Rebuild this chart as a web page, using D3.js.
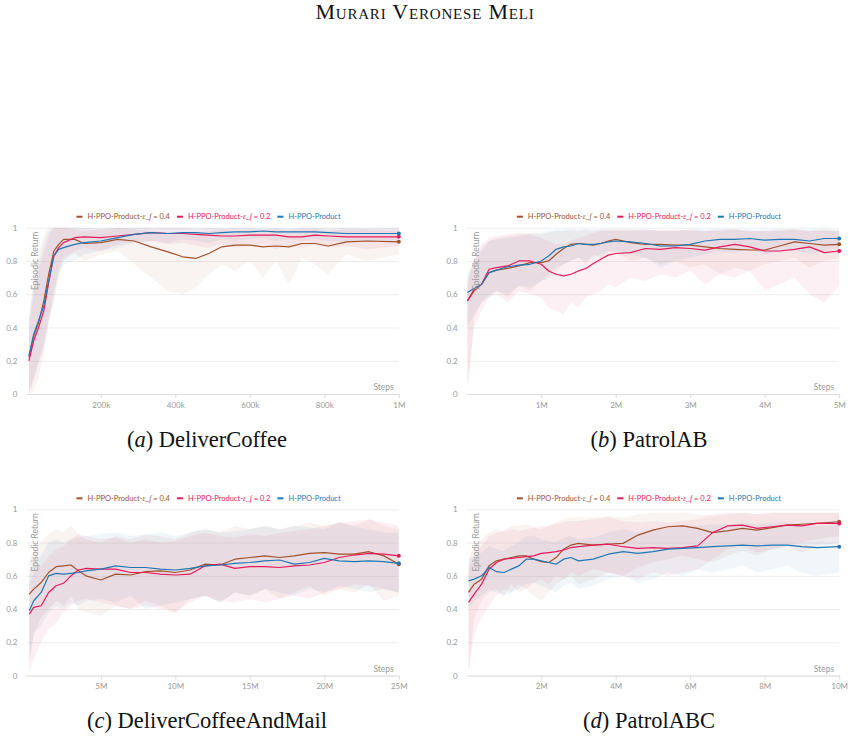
<!DOCTYPE html>
<html lang="en">
<head>
<meta charset="UTF-8">
<title>Episodic Return</title>
<script src="https://d3js.org/d3.v7.min.js"></script>
<style>
    body { margin: 0; background: #fff; }
    svg text { font-family: Lato, "Open Sans", sans-serif; }
    .tick text { fill: #999; font-size: 8px; }
    .axis-title { fill: #999; font-size: 8.5px; }
    .legend text { font-size: 7.5px; }
    svg text.caption { font-family: "Liberation Serif", serif; font-size: 22.5px; fill: #111; }
    svg text.header { font-family: "Liberation Serif", serif; font-size: 22px; fill: #111; font-variant: small-caps; letter-spacing: 0.8px; }
</style>
</head>
<body>
<div id="chart"></div>
<script>
// series order: eps_f = 0.4 (brown), eps_f = 0.2 (red), plain (blue)
const legendLabels = [
    ["H-PPO-Product-", "ε_f", " = 0.4"],
    ["H-PPO-Product-", "ε_f", " = 0.2"],
    ["H-PPO-Product", "", ""]
];
const colors = ["#a0522d", "#e8195a", "#1f78b4"];
const yTicks = [0, 0.2, 0.4, 0.6, 0.8, 1];

// (a) DeliverCoffee, steps in thousands
const stepsA = [7, 20, 33, 47, 60, 74, 87, 100, 130, 155, 200, 245, 290, 335, 380, 420, 455, 490, 525, 560, 600, 635, 670, 705, 740, 775, 810, 860, 915, 1000];
const brownA = [0.22, 0.35, 0.43, 0.56, 0.72, 0.86, 0.90, 0.93, 0.93, 0.905, 0.91, 0.93, 0.92, 0.885, 0.855, 0.825, 0.815, 0.845, 0.885, 0.895, 0.895, 0.885, 0.89, 0.885, 0.905, 0.905, 0.89, 0.915, 0.92, 0.915];
const redA = [0.20, 0.32, 0.40, 0.50, 0.67, 0.83, 0.88, 0.91, 0.94, 0.945, 0.94, 0.95, 0.96, 0.97, 0.965, 0.965, 0.96, 0.955, 0.95, 0.95, 0.955, 0.955, 0.955, 0.945, 0.945, 0.955, 0.95, 0.945, 0.945, 0.945];
const blueA = [0.23, 0.36, 0.44, 0.53, 0.68, 0.83, 0.87, 0.88, 0.90, 0.91, 0.92, 0.94, 0.96, 0.97, 0.965, 0.97, 0.97, 0.965, 0.97, 0.975, 0.975, 0.98, 0.975, 0.975, 0.975, 0.975, 0.97, 0.965, 0.965, 0.965];
const brownLoA = [0.00, 0.02, 0.10, 0.25, 0.45, 0.62, 0.72, 0.80, 0.85, 0.80, 0.84, 0.86, 0.78, 0.70, 0.62, 0.60, 0.64, 0.72, 0.78, 0.74, 0.80, 0.70, 0.80, 0.66, 0.82, 0.78, 0.72, 0.84, 0.80, 0.84];
const brownHiA = [0.45, 0.70, 0.85, 0.95, 1, 1, 1, 1, 0.99, 0.98, 0.99, 1, 0.99, 0.98, 0.97, 0.96, 0.96, 0.98, 0.99, 0.98, 0.99, 0.98, 0.99, 0.98, 0.99, 0.99, 0.98, 0.99, 0.99, 0.98];
const redLoA = [0.00, 0.08, 0.18, 0.28, 0.42, 0.58, 0.75, 0.82, 0.86, 0.88, 0.86, 0.90, 0.91, 0.92, 0.90, 0.91, 0.89, 0.88, 0.90, 0.88, 0.89, 0.90, 0.87, 0.89, 0.88, 0.90, 0.88, 0.89, 0.87, 0.89];
const redHiA = [0.40, 0.62, 0.75, 0.85, 0.95, 1, 1, 1, 1, 1, 0.99, 1, 1, 1, 1, 1, 0.99, 1, 0.99, 1, 1, 0.99, 1, 0.99, 1, 1, 0.99, 1, 0.99, 1];
const blueLoA = [0.02, 0.10, 0.20, 0.30, 0.45, 0.55, 0.70, 0.78, 0.80, 0.84, 0.86, 0.88, 0.91, 0.92, 0.91, 0.93, 0.92, 0.91, 0.93, 0.92, 0.93, 0.94, 0.92, 0.93, 0.92, 0.93, 0.92, 0.91, 0.92, 0.92];
const blueHiA = [0.45, 0.65, 0.80, 0.90, 0.98, 1, 1, 1, 1, 1, 1, 1, 1, 1, 1, 1, 1, 1, 1, 1, 1, 1, 1, 1, 1, 1, 1, 1, 1, 1];

// (b) PatrolAB, steps in millions
const stepsB = [0.01, 0.1, 0.2, 0.3, 0.4, 0.55, 0.7, 0.85, 1.0, 1.1, 1.2, 1.3, 1.4, 1.5, 1.6, 1.7, 1.8, 1.9, 2.0, 2.2, 2.4, 2.6, 2.8, 3.0, 3.2, 3.4, 3.6, 3.8, 4.0, 4.2, 4.4, 4.6, 4.8, 5.0];
const brownB = [0.56, 0.62, 0.66, 0.73, 0.745, 0.755, 0.77, 0.79, 0.79, 0.80, 0.84, 0.875, 0.90, 0.905, 0.90, 0.895, 0.905, 0.92, 0.93, 0.91, 0.90, 0.90, 0.895, 0.895, 0.885, 0.875, 0.87, 0.866, 0.866, 0.89, 0.915, 0.905, 0.895, 0.90];
const redB = [0.56, 0.63, 0.66, 0.75, 0.76, 0.77, 0.80, 0.80, 0.78, 0.74, 0.72, 0.71, 0.72, 0.74, 0.755, 0.785, 0.81, 0.835, 0.845, 0.85, 0.875, 0.87, 0.88, 0.875, 0.865, 0.885, 0.90, 0.885, 0.86, 0.86, 0.87, 0.885, 0.85, 0.86];
const blueB = [0.61, 0.635, 0.66, 0.73, 0.745, 0.765, 0.775, 0.78, 0.80, 0.83, 0.87, 0.885, 0.89, 0.905, 0.90, 0.90, 0.905, 0.915, 0.92, 0.915, 0.905, 0.89, 0.89, 0.90, 0.92, 0.93, 0.93, 0.935, 0.925, 0.93, 0.93, 0.92, 0.935, 0.935];
const brownLoB = [0.05, 0.45, 0.55, 0.60, 0.62, 0.58, 0.65, 0.62, 0.68, 0.70, 0.74, 0.78, 0.80, 0.82, 0.78, 0.84, 0.82, 0.86, 0.85, 0.80, 0.82, 0.78, 0.80, 0.76, 0.78, 0.72, 0.76, 0.74, 0.78, 0.80, 0.82, 0.76, 0.80, 0.82];
const brownHiB = [0.70, 0.80, 0.88, 0.92, 0.94, 0.95, 0.96, 0.97, 0.96, 0.97, 0.98, 0.98, 0.99, 0.98, 0.99, 0.98, 0.99, 0.99, 0.99, 0.99, 0.98, 0.99, 0.98, 0.99, 0.98, 0.98, 0.99, 0.98, 0.98, 0.99, 0.99, 0.98, 0.99, 0.98];
const redLoB = [0.02, 0.40, 0.50, 0.58, 0.60, 0.55, 0.62, 0.60, 0.58, 0.52, 0.50, 0.48, 0.55, 0.52, 0.58, 0.60, 0.62, 0.66, 0.64, 0.70, 0.68, 0.72, 0.70, 0.74, 0.66, 0.72, 0.70, 0.74, 0.62, 0.66, 0.70, 0.60, 0.55, 0.65];
const redHiB = [0.65, 0.82, 0.90, 0.94, 0.95, 0.96, 0.97, 0.96, 0.94, 0.92, 0.90, 0.90, 0.92, 0.94, 0.95, 0.97, 0.98, 0.98, 0.98, 0.98, 0.99, 0.98, 0.99, 0.98, 0.98, 0.99, 0.99, 0.98, 0.98, 0.98, 0.99, 0.98, 0.98, 0.98];
const blueLoB = [0.40, 0.48, 0.55, 0.58, 0.62, 0.60, 0.65, 0.64, 0.68, 0.72, 0.76, 0.78, 0.80, 0.82, 0.80, 0.82, 0.84, 0.85, 0.86, 0.84, 0.82, 0.76, 0.80, 0.82, 0.84, 0.86, 0.85, 0.87, 0.84, 0.86, 0.87, 0.84, 0.86, 0.88];
const blueHiB = [0.72, 0.80, 0.86, 0.92, 0.93, 0.94, 0.95, 0.96, 0.97, 0.98, 0.99, 0.99, 0.99, 0.99, 0.99, 0.99, 0.99, 0.99, 0.99, 0.99, 0.99, 0.98, 0.98, 0.99, 0.99, 0.99, 0.99, 0.99, 0.99, 0.99, 0.99, 0.99, 0.99, 0.99];

// (c) DeliverCoffeeAndMail, steps in millions
const stepsC = [0.2, 0.5, 1, 1.5, 2, 2.5, 3, 3.5, 4, 5, 6, 7, 8, 9, 10, 11, 12, 13, 14, 15, 16, 17, 18, 19, 20, 21, 22, 23, 24, 25];
const brownC = [0.49, 0.52, 0.56, 0.62, 0.655, 0.66, 0.665, 0.63, 0.60, 0.575, 0.61, 0.605, 0.625, 0.63, 0.62, 0.635, 0.67, 0.665, 0.70, 0.71, 0.72, 0.71, 0.72, 0.735, 0.74, 0.73, 0.73, 0.745, 0.72, 0.67];
const redC = [0.37, 0.41, 0.42, 0.50, 0.54, 0.555, 0.60, 0.635, 0.645, 0.64, 0.64, 0.62, 0.62, 0.61, 0.605, 0.61, 0.66, 0.67, 0.645, 0.655, 0.655, 0.65, 0.66, 0.665, 0.68, 0.71, 0.725, 0.735, 0.73, 0.72];
const blueC = [0.39, 0.45, 0.50, 0.60, 0.615, 0.61, 0.615, 0.62, 0.63, 0.64, 0.66, 0.65, 0.65, 0.64, 0.635, 0.645, 0.66, 0.665, 0.675, 0.68, 0.69, 0.695, 0.67, 0.68, 0.705, 0.69, 0.685, 0.69, 0.685, 0.675];
const brownLoC = [0.05, 0.25, 0.35, 0.40, 0.45, 0.42, 0.48, 0.40, 0.38, 0.36, 0.42, 0.40, 0.45, 0.42, 0.38, 0.46, 0.48, 0.44, 0.50, 0.48, 0.52, 0.46, 0.50, 0.54, 0.48, 0.52, 0.50, 0.55, 0.45, 0.48];
const brownHiC = [0.70, 0.75, 0.80, 0.85, 0.88, 0.86, 0.90, 0.85, 0.82, 0.80, 0.84, 0.82, 0.85, 0.84, 0.82, 0.86, 0.88, 0.86, 0.90, 0.88, 0.90, 0.88, 0.90, 0.92, 0.90, 0.92, 0.90, 0.94, 0.90, 0.88];
const redLoC = [0.02, 0.10, 0.20, 0.28, 0.32, 0.38, 0.42, 0.45, 0.46, 0.44, 0.42, 0.40, 0.42, 0.40, 0.38, 0.44, 0.48, 0.45, 0.44, 0.46, 0.44, 0.46, 0.48, 0.46, 0.50, 0.52, 0.55, 0.54, 0.52, 0.50];
const redHiC = [0.55, 0.62, 0.66, 0.72, 0.76, 0.78, 0.82, 0.85, 0.84, 0.82, 0.83, 0.80, 0.82, 0.80, 0.81, 0.84, 0.86, 0.84, 0.83, 0.85, 0.84, 0.86, 0.87, 0.88, 0.90, 0.92, 0.93, 0.94, 0.92, 0.90];
const blueLoC = [0.10, 0.25, 0.30, 0.38, 0.42, 0.40, 0.44, 0.42, 0.45, 0.46, 0.44, 0.48, 0.40, 0.42, 0.44, 0.46, 0.48, 0.44, 0.50, 0.48, 0.52, 0.50, 0.48, 0.52, 0.50, 0.54, 0.52, 0.50, 0.52, 0.50];
const blueHiC = [0.62, 0.68, 0.72, 0.80, 0.82, 0.80, 0.82, 0.83, 0.84, 0.85, 0.86, 0.84, 0.85, 0.86, 0.84, 0.86, 0.88, 0.86, 0.87, 0.88, 0.90, 0.88, 0.90, 0.89, 0.88, 0.92, 0.90, 0.88, 0.86, 0.86];

// (d) PatrolABC, steps in millions
const stepsD = [0.05, 0.2, 0.4, 0.6, 0.8, 1.0, 1.2, 1.4, 1.6, 1.8, 2.0, 2.2, 2.4, 2.6, 2.8, 3.0, 3.4, 3.8, 4.2, 4.6, 5.0, 5.4, 5.8, 6.2, 6.6, 7.0, 7.4, 7.8, 8.2, 8.6, 9.0, 9.4, 10.0];
const brownD = [0.50, 0.55, 0.58, 0.66, 0.69, 0.70, 0.71, 0.72, 0.72, 0.70, 0.685, 0.68, 0.71, 0.76, 0.785, 0.795, 0.785, 0.79, 0.795, 0.845, 0.875, 0.895, 0.90, 0.885, 0.86, 0.87, 0.885, 0.875, 0.89, 0.905, 0.91, 0.915, 0.925];
const redD = [0.44, 0.49, 0.55, 0.64, 0.68, 0.70, 0.705, 0.71, 0.715, 0.72, 0.735, 0.74, 0.745, 0.755, 0.77, 0.775, 0.785, 0.79, 0.775, 0.765, 0.77, 0.765, 0.77, 0.78, 0.86, 0.90, 0.905, 0.885, 0.895, 0.905, 0.90, 0.915, 0.915];
const blueD = [0.57, 0.58, 0.60, 0.65, 0.625, 0.62, 0.64, 0.66, 0.70, 0.70, 0.69, 0.68, 0.67, 0.70, 0.71, 0.69, 0.70, 0.73, 0.745, 0.735, 0.745, 0.76, 0.765, 0.77, 0.775, 0.78, 0.785, 0.78, 0.785, 0.785, 0.775, 0.77, 0.775];
const brownLoD = [0.02, 0.35, 0.45, 0.50, 0.52, 0.48, 0.55, 0.50, 0.52, 0.48, 0.45, 0.50, 0.55, 0.58, 0.60, 0.55, 0.58, 0.62, 0.60, 0.65, 0.68, 0.70, 0.72, 0.70, 0.68, 0.72, 0.75, 0.72, 0.76, 0.78, 0.80, 0.82, 0.84];
const brownHiD = [0.70, 0.78, 0.82, 0.86, 0.88, 0.87, 0.90, 0.90, 0.91, 0.89, 0.88, 0.90, 0.92, 0.94, 0.95, 0.95, 0.95, 0.96, 0.95, 0.97, 0.98, 0.98, 0.98, 0.97, 0.96, 0.97, 0.98, 0.97, 0.98, 0.98, 0.98, 0.98, 0.98];
const redLoD = [0.02, 0.25, 0.35, 0.42, 0.48, 0.52, 0.50, 0.55, 0.52, 0.56, 0.58, 0.55, 0.60, 0.58, 0.62, 0.60, 0.64, 0.62, 0.60, 0.58, 0.62, 0.60, 0.62, 0.64, 0.70, 0.76, 0.78, 0.74, 0.76, 0.78, 0.74, 0.78, 0.80];
const redHiD = [0.65, 0.72, 0.78, 0.84, 0.86, 0.87, 0.88, 0.87, 0.88, 0.89, 0.90, 0.90, 0.91, 0.92, 0.93, 0.93, 0.94, 0.95, 0.93, 0.92, 0.93, 0.92, 0.93, 0.94, 0.97, 0.98, 0.98, 0.97, 0.98, 0.98, 0.98, 0.98, 0.98];
const blueLoD = [0.40, 0.45, 0.48, 0.52, 0.50, 0.48, 0.50, 0.52, 0.55, 0.56, 0.54, 0.52, 0.50, 0.54, 0.56, 0.52, 0.54, 0.58, 0.60, 0.56, 0.58, 0.62, 0.60, 0.64, 0.62, 0.64, 0.66, 0.62, 0.64, 0.66, 0.62, 0.60, 0.62];
const blueHiD = [0.70, 0.72, 0.74, 0.78, 0.76, 0.75, 0.78, 0.80, 0.84, 0.84, 0.82, 0.81, 0.80, 0.83, 0.84, 0.82, 0.83, 0.86, 0.88, 0.86, 0.88, 0.89, 0.90, 0.90, 0.91, 0.91, 0.92, 0.91, 0.92, 0.92, 0.91, 0.90, 0.91];

const panels = [
    { tag: "a", name: "DeliverCoffee", steps: stepsA, max: 1000, ticks: [200, 400, 600, 800, 1000],
      fmt: d => d < 1000 ? d + "k" : "1M",
      lines: [brownA, redA, blueA], lo: [brownLoA, redLoA, blueLoA], hi: [brownHiA, redHiA, blueHiA] },
    { tag: "b", name: "PatrolAB", steps: stepsB, max: 5, ticks: [1, 2, 3, 4, 5],
      fmt: d => d + "M",
      lines: [brownB, redB, blueB], lo: [brownLoB, redLoB, blueLoB], hi: [brownHiB, redHiB, blueHiB] },
    { tag: "c", name: "DeliverCoffeeAndMail", steps: stepsC, max: 25, ticks: [5, 10, 15, 20, 25],
      fmt: d => d + "M",
      lines: [brownC, redC, blueC], lo: [brownLoC, redLoC, blueLoC], hi: [brownHiC, redHiC, blueHiC] },
    { tag: "d", name: "PatrolABC", steps: stepsD, max: 10, ticks: [2, 4, 6, 8, 10],
      fmt: d => d + "M",
      lines: [brownD, redD, blueD], lo: [brownLoD, redLoD, blueLoD], hi: [brownHiD, redHiD, blueHiD] }
];

const width = 853;
const height = 743;
const plotW = 372.5;
const plotH = 166.3;
const lefts = [26.3, 466.7];
const tops = [227.7, 509.3];
const captionX = [207, 649];
const captionY = [447, 728];

const svg = d3.select("#chart")
    .append("svg")
    .attr("width", width)
    .attr("height", height);

svg.append("text")
    .attr("class", "header")
    .attr("x", 425)
    .attr("y", 19)
    .attr("text-anchor", "middle")
    .text("Murari Veronese Meli");

panels.forEach((p, i) => {
    const col = i % 2;
    const row = Math.floor(i / 2);
    const x0 = lefts[col];
    const y0 = tops[row];

    const x = d3.scaleLinear().domain([0, p.max]).range([x0, x0 + plotW]);
    const y = d3.scaleLinear().domain([0, 1]).range([y0 + plotH, y0]);

    const g = svg.append("g");

    // horizontal grid + y labels
    g.append("g")
        .attr("transform", `translate(${x0},0)`)
        .call(d3.axisLeft(y).tickValues(yTicks).tickSize(-plotW).tickPadding(9).tickFormat(d => String(d)))
        .call(a => a.select(".domain").remove())
        .call(a => a.selectAll(".tick line").attr("stroke", "#eeeeee"))
        .call(a => a.selectAll(".tick text").attr("font-size", 8.5));

    // x axis
    g.append("g")
        .attr("transform", `translate(0,${y0 + plotH})`)
        .call(d3.axisBottom(x).tickValues(p.ticks).tickSize(4).tickSizeOuter(0).tickPadding(4).tickFormat(p.fmt))
        .call(a => a.select(".domain").attr("stroke", "#dddddd"))
        .call(a => a.selectAll(".tick line").attr("stroke", "#dddddd"))
        .call(a => a.selectAll(".tick text").attr("font-size", 8.5));

    const clipId = "clip-" + p.tag;
    svg.append("clipPath").attr("id", clipId)
        .append("rect")
        .attr("x", x0).attr("y", y0 - 1)
        .attr("width", plotW + 1).attr("height", plotH + 1);

    const plot = g.append("g").attr("clip-path", `url(#${clipId})`);

    // min/max bands
    p.lines.forEach((vals, s) => {
        const area = d3.area()
            .x((d, k) => x(p.steps[k]))
            .y0((d, k) => y(p.lo[s][k]))
            .y1((d, k) => y(p.hi[s][k]));
        plot.append("path")
            .datum(vals)
            .attr("d", area)
            .attr("fill", colors[s])
            .attr("fill-opacity", 0.065);
    });

    // axis titles drawn over the bands
    g.append("text")
        .attr("class", "axis-title")
        .attr("transform", `translate(${x0 + 12},${y0 + 4}) rotate(-90)`)
        .attr("text-anchor", "end")
        .text("Episodic Return");

    g.append("text")
        .attr("class", "axis-title")
        .attr("x", x0 + plotW - 5)
        .attr("y", y0 + plotH - 4)
        .attr("text-anchor", "end")
        .text("Steps");

    // smoothed runs
    const line = d3.line()
        .x((d, k) => x(p.steps[k]))
        .y(d => y(d));

    p.lines.forEach((vals, s) => {
        plot.append("path")
            .datum(vals)
            .attr("d", line)
            .attr("fill", "none")
            .attr("stroke", colors[s])
            .attr("stroke-width", 1.2)
            .attr("stroke-linejoin", "round");
    });

    p.lines.forEach((vals, s) => {
        g.append("circle")
            .attr("cx", x(p.steps[p.steps.length - 1]))
            .attr("cy", y(vals[vals.length - 1]))
            .attr("r", 2)
            .attr("fill", colors[s]);
    });

    // legend
    const leg = g.append("g").attr("class", "legend");
    const items = legendLabels.map((parts, s) => {
        const item = leg.append("g");
        item.append("line")
            .attr("x1", 0).attr("x2", 6)
            .attr("y1", 0).attr("y2", 0)
            .attr("stroke", colors[s])
            .attr("stroke-width", 2);
        const t = item.append("text")
            .attr("x", 11)
            .attr("y", 2.6)
            .attr("fill", colors[s]);
        t.append("tspan").text(parts[0]);
        if (parts[1]) t.append("tspan").attr("font-style", "italic").attr("font-family", "Liberation Serif, serif").text(parts[1]);
        if (parts[2]) t.append("tspan").text(parts[2]);
        return { item, w: 11 + t.node().getComputedTextLength() };
    });
    const gap = 7;
    const total = d3.sum(items, d => d.w) + gap * (items.length - 1);
    let cx = x0 + plotW / 2 - 4 - total / 2;
    items.forEach(d => {
        d.item.attr("transform", `translate(${cx},${y0 - 11})`);
        cx += d.w + gap;
    });

    // caption
    const cap = svg.append("text")
        .attr("class", "caption")
        .attr("x", captionX[col])
        .attr("y", captionY[row])
        .attr("text-anchor", "middle");
    cap.append("tspan").text("(");
    cap.append("tspan").attr("font-style", "italic").text(p.tag);
    cap.append("tspan").text(") " + p.name);
});
</script>
</body>
</html>
